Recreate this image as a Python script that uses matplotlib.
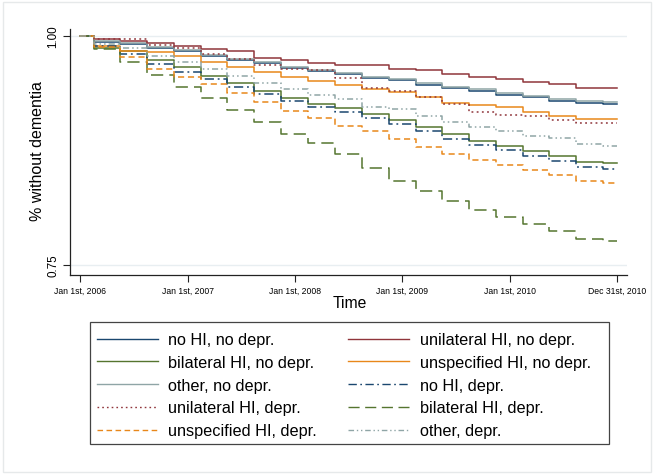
"""Kaplan-Meier style curves: share without dementia by hearing impairment
(HI) and depression status, 2006-2010."""

import matplotlib.pyplot as plt
import pandas as pd
from matplotlib.lines import Line2D
from matplotlib.patches import Rectangle

plt.rcParams["font.family"] = ["Liberation Sans", "DejaVu Sans"]

START = "2006-01-01"
END = "2010-12-31"

# quarterly event dates where the curves step down
STEP_DATES = [
    "2006-02-15", "2006-05-15", "2006-08-15", "2006-11-15",
    "2007-02-15", "2007-05-15", "2007-08-15", "2007-11-15",
    "2008-02-15", "2008-05-15", "2008-08-15", "2008-11-15",
    "2009-02-15", "2009-05-15", "2009-08-15", "2009-11-15",
    "2010-02-15", "2010-05-15", "2010-08-15", "2010-11-15",
]

# survival estimates: value from START, then after each step date
NO_HI_NO_DEPR = [1.0, 0.9934, 0.9907, 0.9871, 0.9834, 0.9779, 0.9743, 0.9707,
                 0.9653, 0.9615, 0.9580, 0.9544, 0.9517, 0.9469, 0.9433,
                 0.9404, 0.9359, 0.9330, 0.9294, 0.9269, 0.9261]
UNI_NO_DEPR = [1.0, 0.9967, 0.9949, 0.9920, 0.9891, 0.9855, 0.9833, 0.9760,
               0.9738, 0.9702, 0.9687, 0.9687, 0.9640, 0.9629, 0.9585,
               0.9556, 0.9531, 0.9495, 0.9473, 0.9436, 0.9436]
BI_NO_DEPR = [1.0, 0.9866, 0.9833, 0.9738, 0.9658, 0.9567, 0.9487, 0.9403,
              0.9326, 0.9261, 0.9211, 0.9148, 0.9083, 0.9010, 0.8930,
              0.8857, 0.8802, 0.8748, 0.8693, 0.8628, 0.8610]
UNSPEC_NO_DEPR = [1.0, 0.9894, 0.9840, 0.9822, 0.9785, 0.9713, 0.9658, 0.9604,
                  0.9556, 0.9512, 0.9465, 0.9421, 0.9385, 0.9331, 0.9265,
                  0.9250, 0.9222, 0.9167, 0.9130, 0.9091, 0.9091]
OTHER_NO_DEPR = [1.0, 0.9942, 0.9918, 0.9880, 0.9844, 0.9789, 0.9753, 0.9718,
                 0.9664, 0.9627, 0.9591, 0.9555, 0.9528, 0.9483, 0.9447,
                 0.9417, 0.9374, 0.9345, 0.9309, 0.9285, 0.9279]
UNI_DEPR = [1.0, 0.9967, 0.9967, 0.9902, 0.9864, 0.9803, 0.9749, 0.9683,
            0.9640, 0.9629, 0.9541, 0.9429, 0.9396, 0.9331, 0.9258,
            0.9167, 0.9141, 0.9123, 0.9080, 0.9047, 0.9047]
BI_DEPR = [1.0, 0.9858, 0.9719, 0.9578, 0.9440, 0.9326, 0.9195, 0.9058,
           0.8933, 0.8830, 0.8712, 0.8559, 0.8420, 0.8305, 0.8202,
           0.8104, 0.8021, 0.7948, 0.7874, 0.7784, 0.7759]
UNSPEC_DEPR = [1.0, 0.9877, 0.9767, 0.9640, 0.9556, 0.9476, 0.9380, 0.9279,
               0.9181, 0.9108, 0.9021, 0.8960, 0.8876, 0.8785, 0.8712,
               0.8650, 0.8595, 0.8540, 0.8486, 0.8414, 0.8399]
NO_HI_DEPR = [1.0, 0.9894, 0.9803, 0.9694, 0.9610, 0.9531, 0.9440, 0.9367,
              0.9290, 0.9222, 0.9167, 0.9105, 0.9039, 0.8960, 0.8876,
              0.8813, 0.8755, 0.8693, 0.8639, 0.8567, 0.8545]
OTHER_DEPR = [1.0, 0.9913, 0.9866, 0.9785, 0.9719, 0.9636, 0.9558, 0.9485,
              0.9421, 0.9361, 0.9312, 0.9222, 0.9203, 0.9130, 0.9058,
              0.9010, 0.8960, 0.8912, 0.8883, 0.8821, 0.8799]

TICK_DATES = ["2006-01-01", "2007-01-01", "2008-01-01", "2009-01-01",
              "2010-01-01", "2010-12-31"]
TICK_LABELS = ["Jan 1st, 2006", "Jan 1st, 2007", "Jan 1st, 2008",
               "Jan 1st, 2009", "Jan 1st, 2010", "Dec 31st, 2010"]
Y_TICKS = [0.75, 1.00]
Y_TICK_LABELS = ["0.75", "1.00"]

NAVY = "#1a476f"
MAROON = "#90353b"
GREEN = "#55752f"
ORANGE = "#e8871a"
GREY = "#8fa5a6"

# (label, values, colour, dash pattern) in legend reading order
SERIES = [
    ("no HI, no depr.", NO_HI_NO_DEPR, NAVY, "-"),
    ("unilateral HI, no depr.", UNI_NO_DEPR, MAROON, "-"),
    ("bilateral HI, no depr.", BI_NO_DEPR, GREEN, "-"),
    ("unspecified HI, no depr.", UNSPEC_NO_DEPR, ORANGE, "-"),
    ("other, no depr.", OTHER_NO_DEPR, GREY, "-"),
    ("no HI, depr.", NO_HI_DEPR, NAVY, (0, (6, 2.5, 1.2, 2.5))),
    ("unilateral HI, depr.", UNI_DEPR, MAROON, (0, (1.2, 2.2))),
    ("bilateral HI, depr.", BI_DEPR, GREEN, (0, (8, 4))),
    ("unspecified HI, depr.", UNSPEC_DEPR, ORANGE, (0, (4, 2.5))),
    ("other, depr.", OTHER_DEPR, GREY, (0, (4, 2, 1, 2, 1, 2))),
]

W, H = 654, 477


def fx(px):
    return px / W


def fy(py):
    return 1 - py / H


fig = plt.figure(figsize=(W / 100, H / 100), dpi=100)
fig.patches.append(Rectangle((fx(3), fy(473)), fx(648), 470 / H,
                             transform=fig.transFigure, fill=False,
                             edgecolor="#e6e9ea", linewidth=1.0))

ax = fig.add_axes([fx(70), fy(276), fx(557), 246 / H])

x = pd.to_datetime([START] + STEP_DATES + [END])
for label, values, color, style in SERIES:
    ax.plot(x, values + [values[-1]], drawstyle="steps-post",
            color=color, linestyle=style, linewidth=1.1)

for yv in Y_TICKS:
    ax.axhline(yv, color="#e8eef1", linewidth=1.0, zorder=0)

ax.set_xlim(pd.Timestamp("2005-11-27"), pd.Timestamp("2011-02-04"))
ax.set_ylim(0.7391, 1.0076)

ax.set_xticks(pd.to_datetime(TICK_DATES))
ax.set_xticklabels(TICK_LABELS, fontsize=6.2)
ax.set_yticks(Y_TICKS)
ax.set_yticklabels(Y_TICK_LABELS, rotation=90, va="center", fontsize=8.4)
ax.tick_params(direction="out", length=5, width=0.8, color="#222222")
ax.tick_params(axis="x", pad=2.5)
ax.tick_params(axis="y", pad=2.5)

for side in ("top", "right"):
    ax.spines[side].set_visible(False)
for side in ("left", "bottom"):
    ax.spines[side].set_color("#222222")
    ax.spines[side].set_linewidth(0.9)

fig.text(fx(38), fy(151), "% without dementia", rotation=90,
         ha="center", va="center", fontsize=11.5)
fig.text(fx(350), fy(304), "Time", ha="center", va="center", fontsize=11.3)

# legend laid out row by row, two columns, as in the original
fig.patches.append(Rectangle((fx(89.5), fy(445)), fx(519), 122 / H,
                             transform=fig.transFigure, fill=False,
                             edgecolor="#444444", linewidth=0.9))
row_y = [339.5, 362, 385, 407.5, 430.5]
col_x = [(97, 158, 168), (348, 409, 420)]
for i, (label, values, color, style) in enumerate(SERIES):
    hx0, hx1, tx = col_x[i % 2]
    ry = row_y[i // 2]
    fig.add_artist(Line2D([fx(hx0), fx(hx1)], [fy(ry), fy(ry)],
                          transform=fig.transFigure, color=color,
                          linestyle=style, linewidth=1.0))
    fig.text(fx(tx), fy(ry), label, ha="left", va="center_baseline",
             fontsize=11.7)

fig.savefig("out.png", dpi=100)
